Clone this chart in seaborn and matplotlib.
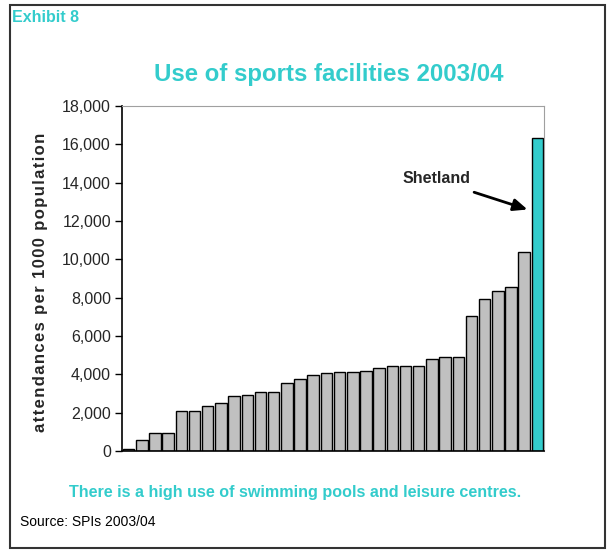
import matplotlib
matplotlib.use("Agg")
import matplotlib.pyplot as plt
import seaborn as sns
import pandas as pd
from matplotlib.patches import Rectangle

councils = [f"Council {i}" for i in range(1, 32)] + ["Shetland"]
attendances = [120, 570, 940, 940, 2090, 2090, 2350, 2480, 2860, 2930, 3070, 3100,
               3560, 3750, 3990, 4060, 4110, 4110, 4200, 4310, 4430, 4430, 4430,
               4810, 4880, 4880, 7030, 7930, 8370, 8560, 10390, 16310]
yticks = [0, 2000, 4000, 6000, 8000, 10000, 12000, 14000, 16000, 18000]

TEAL = "#33CCCC"
GREY = "#C0C0C0"

sns.set_theme(style="white")
plt.rcParams['font.family'] = ['Liberation Sans', 'DejaVu Sans']

df = pd.DataFrame({"council": councils, "value": attendances})
colors = {c: (TEAL if c == "Shetland" else GREY) for c in councils}

fig = plt.figure(figsize=(6.12, 5.51), dpi=100)
ax = fig.add_axes([122/612, 100/551, (544-122)/612, (451-106)/551])

sns.barplot(data=df, x="council", y="value", hue="council", palette=colors,
            legend=False, width=0.87, edgecolor="black", linewidth=1.0,
            saturation=1, ax=ax)

ax.set_xlim(-0.5, len(councils) - 0.5)
ax.set_ylim(0, 18000)
ax.set_yticks(yticks)
ax.set_yticklabels([f"{v:,}" for v in yticks], fontsize=11.5)
ax.set_xticks([])
ax.set_xlabel("")
ylabel = "\u200a".join("attendances per 1000 population")
ax.set_ylabel(ylabel, fontsize=12, fontweight="bold")
ax.yaxis.set_label_coords(-0.175, 0.49)
ax.tick_params(axis="y", direction="out", length=5, width=1, color="black",
               left=True, pad=3)
for s in ["left", "bottom"]:
    ax.spines[s].set_color("black")
    ax.spines[s].set_linewidth(1.2)
for s in ["top", "right"]:
    ax.spines[s].set_color("#A0A0A0")
    ax.spines[s].set_linewidth(0.8)

ax.text(25.9, 14230, "Shetland", fontsize=11.5, fontweight="bold",
        ha="right", va="center")
ax.annotate("", xy=(30.25, 12600), xytext=(26.2, 13500),
            arrowprops=dict(arrowstyle="-|>,head_length=0.7,head_width=0.3",
                            color="black", lw=2, shrinkA=0, shrinkB=0))

fig.text(12/612, 1 - 18/551, "Exhibit 8", fontsize=11.5, fontweight="bold",
         color=TEAL, ha="left", va="center")
fig.text(329/612, 1 - 74/551, "Use of sports facilities 2003/04", fontsize=17.3,
         fontweight="bold", color=TEAL, ha="center", va="center")
fig.text(295/612, 1 - 492/551,
         "There is a high use of swimming pools and leisure centres.",
         fontsize=11.6, fontweight="bold", color=TEAL, ha="center", va="center")
fig.text(20/612, 1 - 522/551, "Source: SPIs 2003/04", fontsize=10,
         color="black", ha="left", va="center")

fig.patches.append(Rectangle((10/612, 3/551), 595/612, 543/551,
                             transform=fig.transFigure, fill=False,
                             edgecolor="#333333", linewidth=1.5))

fig.savefig("out.png", dpi=100)
